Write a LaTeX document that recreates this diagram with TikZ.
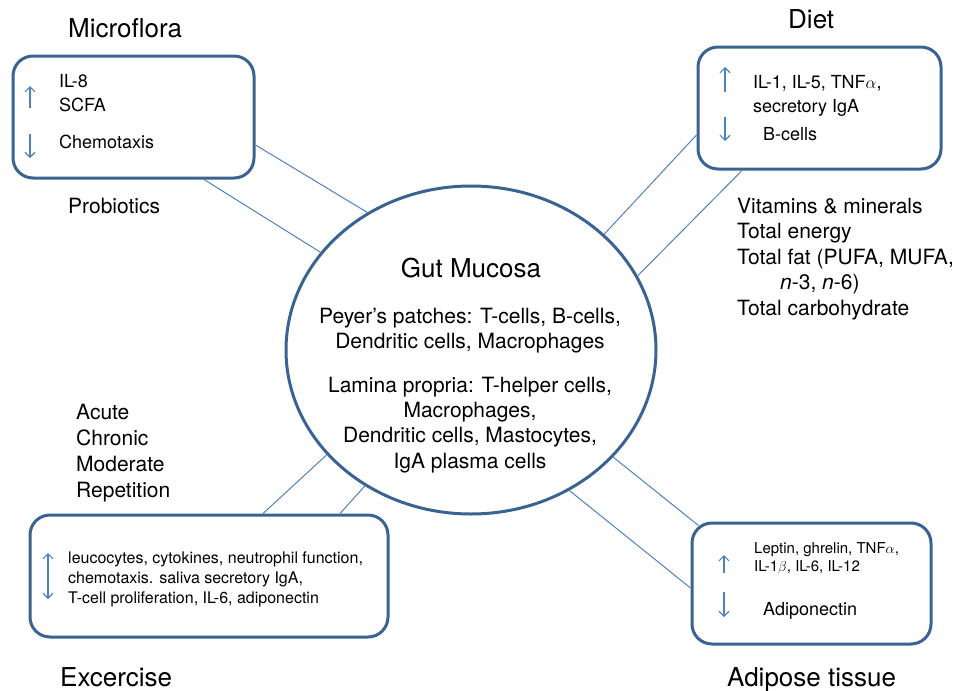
\documentclass[tikz,border=0pt]{standalone}
\usepackage{fontspec}
\setmainfont{TeX Gyre Heros}
\usetikzlibrary{arrows.meta,calc,shapes.geometric}
\definecolor{boxblue}{HTML}{3B6391}
\definecolor{lineblue}{HTML}{4F81BD}
\begin{document}
\begin{tikzpicture}[x=1pt,y=-1pt,
  panel/.style={draw=boxblue,line width=3pt,rounded corners=20pt,inner sep=0pt,rectangle},
  link/.style={draw=lineblue,line width=1pt},
  updown/.style={draw=lineblue,line width=1.2pt,-{Straight Barb[length=5pt,width=10pt]}},
  lbl/.style={inner sep=0pt,anchor=base west,align=left},
  clbl/.style={inner sep=0pt,anchor=base,align=center},
  fbig/.style={font=\fontsize{26}{30}\selectfont},
  fmid/.style={font=\fontsize{21}{25.5}\selectfont},
  fsm/.style={font=\fontsize{18}{24}\selectfont},
  fxs/.style={font=\fontsize{16}{20}\selectfont},
  fxxs/.style={font=\fontsize{15}{18}\selectfont}]
\useasboundingbox (0,0) rectangle (962,691);

% central ellipse
\node[draw=boxblue,line width=3pt,ellipse,inner sep=0pt,minimum width=370pt,minimum height=328pt] (gut) at (471,350) {};
\node[clbl,fbig] (gutt) at (471,277) {Gut Mucosa};
\node[clbl,fmid,font=\fontsize{21}{25}\selectfont] (peyer) at (470,348) {Peyer’s patches: T-cells, B-cells,\\ Dendritic cells, Macrophages};
\node[clbl,fmid,font=\fontsize{21}{25.3}\selectfont] (lamina) at (470,468) {Lamina propria: T-helper cells,\\Macrophages,\\ Dendritic cells, Mastocytes,\\IgA plasma cells};

% boxes
\node[panel,minimum width=241pt,minimum height=122pt] (mf) at (133.5,117) {};
\node[panel,minimum width=243pt,minimum height=122pt] (diet) at (819.5,108) {};
\node[panel,minimum width=358pt,minimum height=122pt] (ex) at (209,576) {};
\node[panel,minimum width=239pt,minimum height=121pt] (ad) at (811.5,583.5) {};

% headings
\node[lbl,fbig] (mfh) at (68,37) {Microflora};
\node[lbl,fbig] (dieth) at (788,28) {Diet};
\node[lbl,fbig] (exh) at (60,686) {Excercise};
\node[lbl,fbig] (adh) at (727,686) {Adipose tissue};

% side labels
\node[lbl,fmid] (prob) at (68,213) {Probiotics};
\node[lbl,fmid] (dietl) at (737,315) {Vitamins \& minerals\\Total energy\\Total fat (PUFA, MUFA,\\\hspace*{43pt}\textit{n}-3, \textit{n}-6)\\Total carbohydrate};
\node[lbl,fmid,font=\fontsize{21}{26}\selectfont] (exl) at (76,497) {Acute\\Chronic\\Moderate\\Repetition};

% box contents
\node[lbl,fsm] (mf1) at (59,111) {IL-8\\SCFA};
\node[lbl,fsm] (mf2) at (59,148) {Chemotaxis};
\draw[updown] (30,108) -- (30,86);
\draw[updown] (30,134) -- (30,158);

\node[lbl,fsm] (d1) at (753,112) {IL-1, IL-5, TNF$\alpha$,\\secretory IgA};
\node[lbl,fsm] (d2) at (763,140) {B-cells};
\draw[updown] (725,92) -- (725,67);
\draw[updown] (725,117) -- (725,141);

\node[lbl,fxs] (e1) at (68,603) {leucocytes, cytokines, neutrophil function,\\chemotaxis. saliva secretory IgA,\\T-cell proliferation, IL-6, adiponectin};
\draw[updown,{Straight Barb[length=5pt,width=10pt]}-{Straight Barb[length=5pt,width=10pt]}] (48,553) -- (48,599);

\node[lbl,fxxs] (a1) at (754,571) {Leptin, ghrelin, TNF$\alpha$,\\IL-1$\beta$, IL-6, IL-12};
\node[lbl,fsm] (a2) at (763,615) {Adiponectin};
\draw[updown] (724,573) -- (724,555);
\draw[updown] (724,592) -- (724,617);

% connectors
\draw[link] ($(mf.east)+(0,28)$) -- (gut.127.2);
\draw[link] ($(mf.south)+(70.5,0)$) -- (gut.147.6);
\draw[link] ($(diet.west)+(0,27)$) -- (gut.41.5);
\draw[link] ($(diet.south)+(-77.5,0)$) -- (gut.24.3);
\draw[link] ($(ex.north)+(54,0)$) -- (gut.216.8);
\draw[link] ($(ex.north)+(131,0)$) -- (gut.232.8);
\draw[link] ($(ad.north west)+(8,4)$) -- (gut.323.9);
\draw[link] ($(ad.west)+(0,4.5)$) -- (gut.305.8);
\end{tikzpicture}
\end{document}
